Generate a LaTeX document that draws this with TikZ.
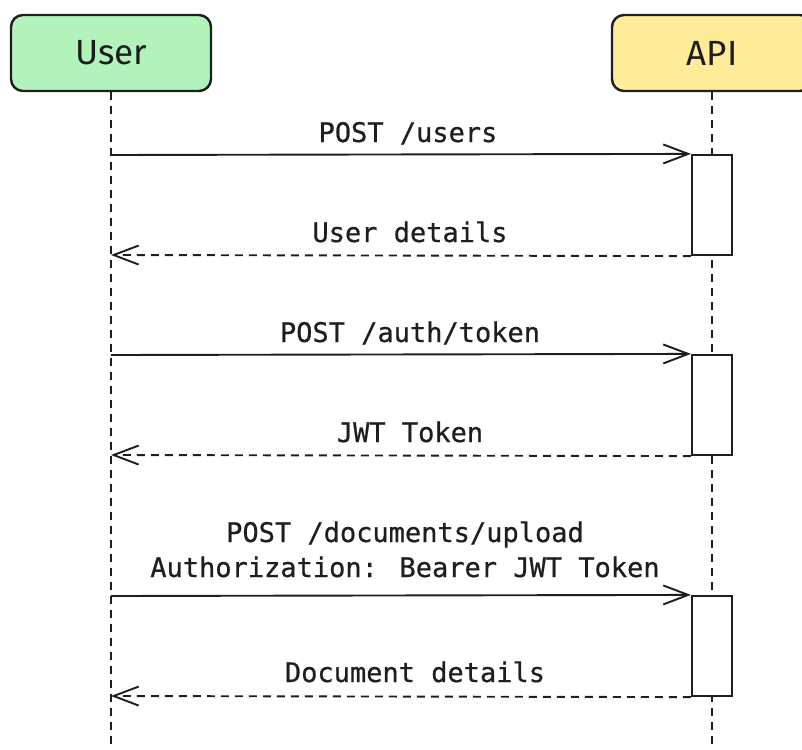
\documentclass[tikz,border=0pt]{standalone}
\usepackage{fontspec}
\setmainfont[FakeBold=0.6]{DejaVu Sans Mono}
\newfontfamily\handfont{Fira Sans}
\usetikzlibrary{arrows.meta}
\definecolor{ink}{HTML}{1E1E1E}
\definecolor{usergreen}{HTML}{B2F2BB}
\definecolor{apiyellow}{HTML}{FFEC99}
\tikzset{
  participant/.style={draw=ink, line width=2.4pt, rounded corners=12pt, minimum width=200pt, minimum height=76pt, inner sep=0pt, font=\handfont\fontsize{35}{35}\selectfont, text=ink},
  lifeline/.style={draw=ink, line width=1.8pt, dash pattern=on 8pt off 6pt},
  actbox/.style={draw=ink, line width=2.2pt, fill=white, minimum width=40pt, minimum height=100pt, inner sep=0pt},
  msg/.style={draw=ink, line width=1.9pt, -{Straight Barb[length=25pt,width=19pt]}},
  ret/.style={draw=ink, line width=1.9pt, dash pattern=on 8pt off 6pt, -{Straight Barb[length=25pt,width=19pt]}},
  lbl/.style={anchor=base, inner sep=0pt, text=ink, font=\fontsize{27}{32}\selectfont, align=center}
}
\begin{document}
\begin{tikzpicture}[x=1pt,y=-1pt]
\useasboundingbox (0,0) rectangle (802,749);
\clip (0,0) rectangle (802,749);
\node[participant, fill=usergreen] (user) at (111,53) {User};
\node[participant, fill=apiyellow] (api) at (712,53) {API};
\coordinate (userend) at (111,749);
\coordinate (apiend) at (712,749);
\draw[lifeline] (user.south) -- (userend);
\draw[lifeline] (api.south) -- (apiend);
\node[actbox] (a1) at (712,205) {};
\node[actbox] (a2) at (712,405) {};
\node[actbox] (a3) at (712,646) {};
\coordinate (u1) at (111,155);
\coordinate (u2) at (111,255);
\coordinate (u3) at (111,355);
\coordinate (u4) at (111,455);
\coordinate (u5) at (111,596);
\coordinate (u6) at (111,696);
\draw[msg] (u1) -- (a1.north west);
\draw[ret] (a1.south west) -- (u2);
\draw[msg] (u3) -- (a2.north west);
\draw[ret] (a2.south west) -- (u4);
\draw[msg] (u5) -- (a3.north west);
\draw[ret] (a3.south west) -- (u6);
\node[lbl] (l1) at (408,142) {POST /users};
\node[lbl] (l2) at (410,242) {User details};
\node[lbl] (l3) at (410,342) {POST /auth/token};
\node[lbl] (l4) at (410,442) {JWT Token};
\node[lbl] (l5) at (405,542) {POST /documents/upload};
\node[lbl] (l6) at (405,577) {Authorization: Bearer JWT Token};
\node[lbl] (l7) at (415,682) {Document details};
\end{tikzpicture}
\end{document}
